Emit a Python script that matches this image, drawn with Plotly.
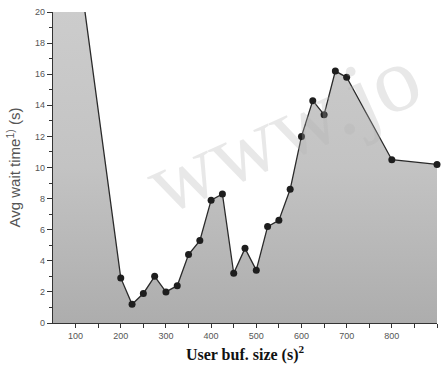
import plotly.graph_objects as go

# Data
buf_size = [50, 100, 200, 225, 250, 275, 300, 325, 350, 375, 400, 425, 450, 475,
            500, 525, 550, 575, 600, 625, 650, 675, 700, 800, 900]
wait_time = [35.0, 24.5, 2.9, 1.2, 1.9, 3.0, 2.0, 2.4, 4.4, 5.3, 7.9, 8.3, 3.2, 4.8,
             3.4, 6.2, 6.6, 8.6, 12.0, 14.3, 13.4, 16.2, 15.8, 10.5, 10.2]
marker_x = buf_size[2:]
marker_y = wait_time[2:]

x_tickvals = [100, 200, 300, 400, 500, 600, 700, 800, 900]
x_ticktext = ["100", "200", "300", "400", "500", "600", "700", "800", "900"]
y_tickvals = [0, 2, 4, 6, 8, 10, 12, 14, 16, 18, 20]

fig = go.Figure()
fig.add_trace(go.Scatter(
    x=buf_size, y=wait_time, mode="lines",
    line=dict(color="#2a2a2a", width=1.3),
    fill="tozeroy",
    fillgradient=dict(type="vertical", start=0, stop=20,
                      colorscale=[[0, "#adadad"], [0.2, "#b6b6b6"], [0.5, "#c3c3c3"], [1, "#cccccc"]]),
    hoverinfo="skip", showlegend=False,
))
fig.add_trace(go.Scatter(
    x=marker_x, y=marker_y, mode="markers",
    marker=dict(color="#1e1e1e", size=7),
    cliponaxis=False, showlegend=False,
))

fig.add_annotation(
    text="www.jo", xref="paper", yref="paper", x=0.6, y=0.97,
    showarrow=False, textangle=-24,
    font=dict(family="Liberation Serif", size=92, color="rgba(180,180,180,0.3)"),
)

tick_font = dict(family="Liberation Sans, Arial", size=9, color="#555555")
fig.update_layout(
    width=442, height=371,
    margin=dict(l=53, r=5, t=12, b=48),
    paper_bgcolor="white", plot_bgcolor="white",
    xaxis=dict(
        range=[50, 900], tickvals=x_tickvals, ticktext=x_ticktext,
        ticks="outside", ticklen=4, tickwidth=1, tickcolor="#333333",
        minor=dict(tickvals=[150, 250, 350, 450, 550, 650, 750, 850], ticks="outside",
                   ticklen=4, tickcolor="#333333"),
        showline=True, linecolor="#333333", linewidth=1.2,
        showgrid=False, zeroline=False, tickfont=tick_font,
        title=dict(text="User buf. size (s)<sup>2</sup>", standoff=8,
                   font=dict(family="Liberation Serif, Times New Roman", size=16, color="#111111",
                             weight="bold")),
    ),
    yaxis=dict(
        range=[0, 20], tickvals=y_tickvals,
        ticks="outside", ticklen=5, tickwidth=1, tickcolor="#333333",
        minor=dict(dtick=1, ticks="outside", ticklen=3, tickcolor="#333333"),
        showline=True, linecolor="#333333", linewidth=1.2,
        showgrid=False, zeroline=False, tickfont=tick_font,
        title=dict(text="Avg wait time<sup>1)</sup> (s)", standoff=10,
                   font=dict(family="Liberation Sans, Arial", size=15, color="#555555")),
    ),
)

fig.write_html("out.html", config={"displayModeBar": False},
               post_script="document.body.style.margin='0';")
